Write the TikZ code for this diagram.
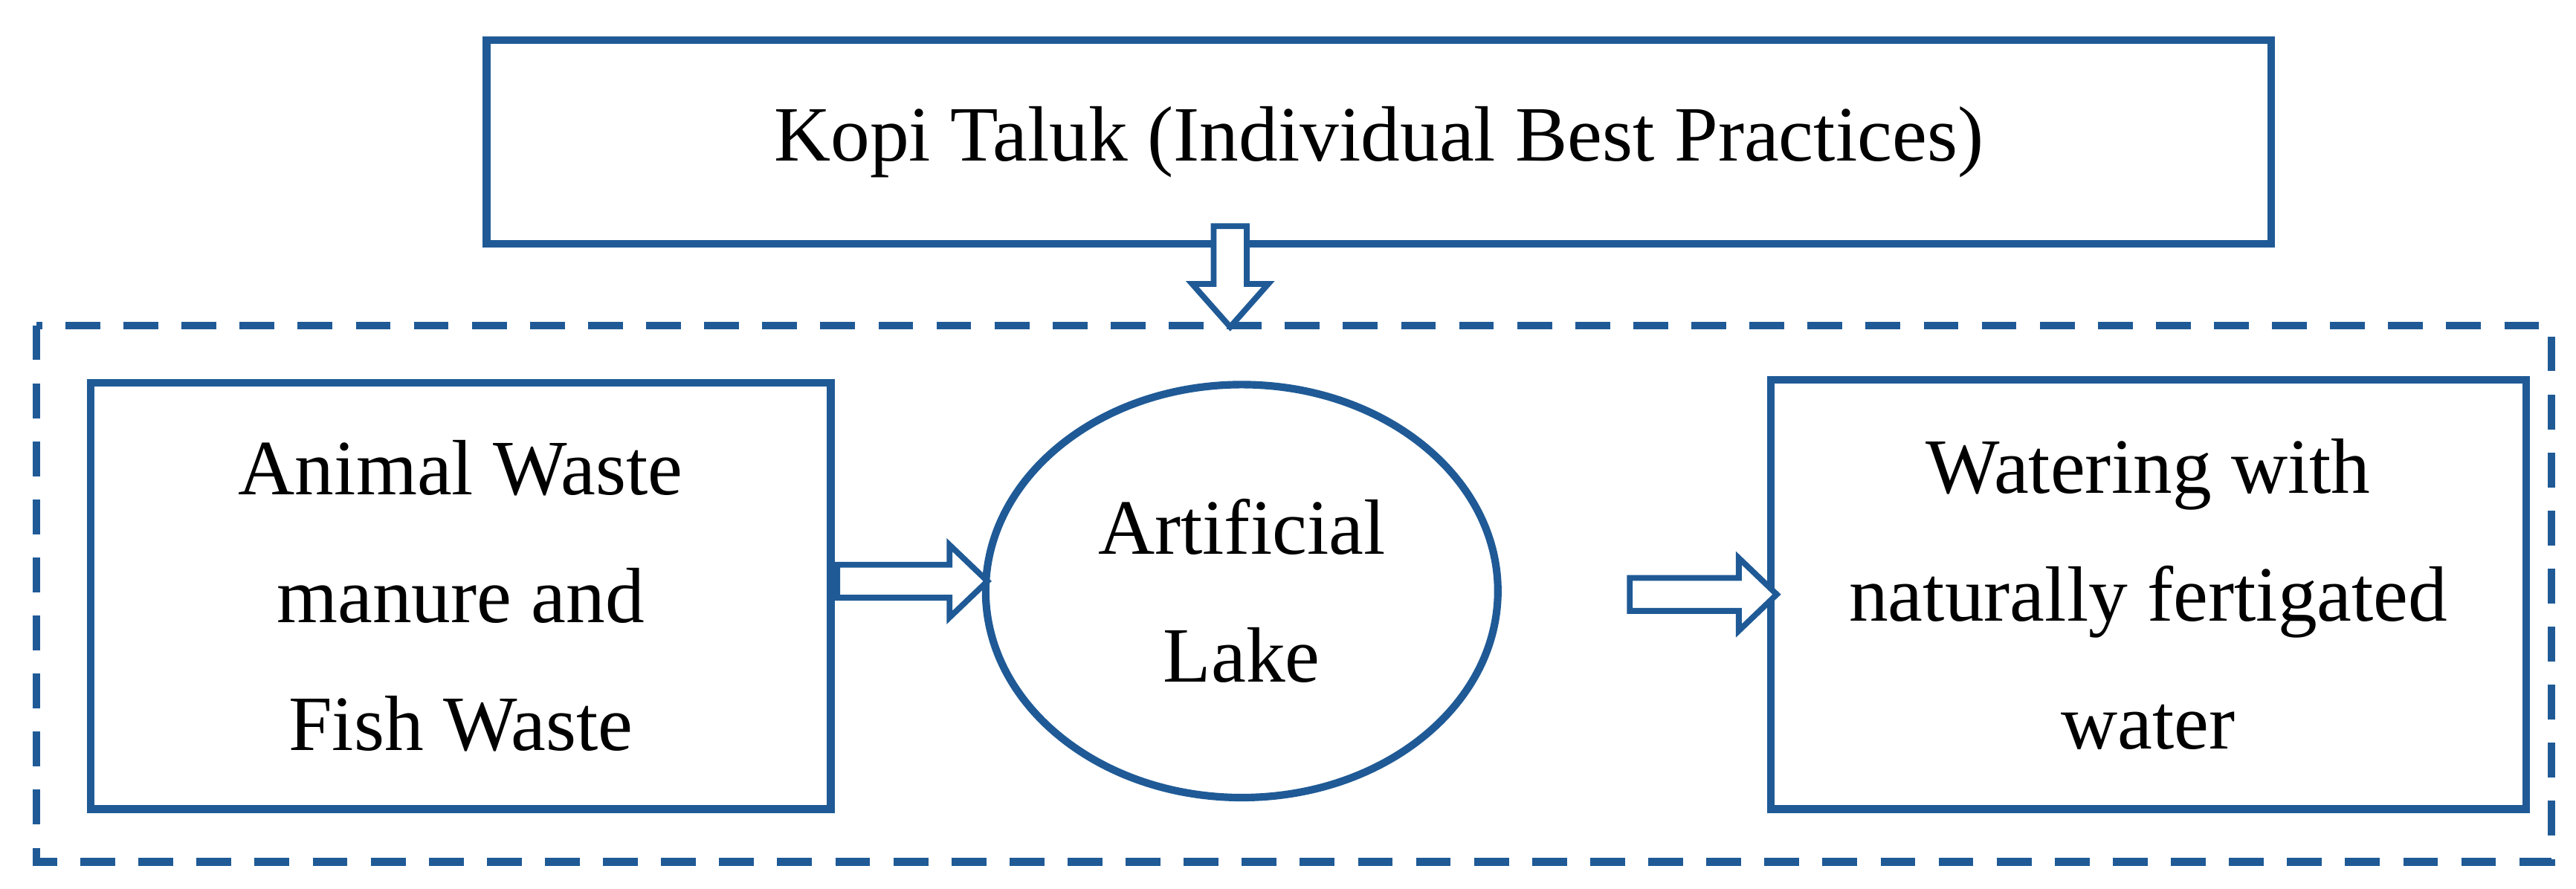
\documentclass[tikz,border=0pt]{standalone}
\usepackage{fontspec}
\setmainfont{Liberation Serif}
\usetikzlibrary{shapes.geometric}
\definecolor{bl}{HTML}{1F5A96}
\begin{document}
\begin{tikzpicture}[x=0.01cm,y=-0.01cm,
  box/.style={draw=bl,line width=1.3pt,inner sep=0pt},
  txt/.style={font=\fontsize{13.5}{22}\selectfont,align=center},
  harrow/.style={draw=bl,line width=1pt,fill=white,line join=miter}]
\useasboundingbox (0,0) rectangle (1560,538);
\fill[white] (0,0) rectangle (1560,538);
\draw[bl,line width=1.3pt,dash pattern=on 6pt off 4pt] (22,197) rectangle (1545,522);
\node[box,minimum width=10.8cm,minimum height=1.23cm,txt] (top) at (835,86) {Kopi Taluk (Individual Best Practices)};
\node[box,minimum width=4.48cm,minimum height=2.58cm,txt] (left) at (279,361) {Animal Waste\\manure and\\Fish Waste};
\node[box,ellipse,minimum width=3.1cm,minimum height=2.5cm,txt] (lake) at (752,358) {Artificial\\Lake};
\node[box,minimum width=4.57cm,minimum height=2.6cm,txt] (right) at (1301,360) {Watering with\\naturally fertigated\\water};
% down arrow
\draw[harrow] (735,137) -- (755,137) -- (755,172) -- (768,172) -- (745,198) -- (722,172) -- (735,172) -- cycle;
% left -> lake
\draw[harrow] (507,342) -- (575,342) -- (575,330) -- (598,352) -- (575,374) -- (575,362) -- (507,362) -- cycle;
% lake -> right
\draw[harrow] (987,350) -- (1053,350) -- (1053,338) -- (1076,360) -- (1053,382) -- (1053,370) -- (987,370) -- cycle;
\end{tikzpicture}
\end{document}
